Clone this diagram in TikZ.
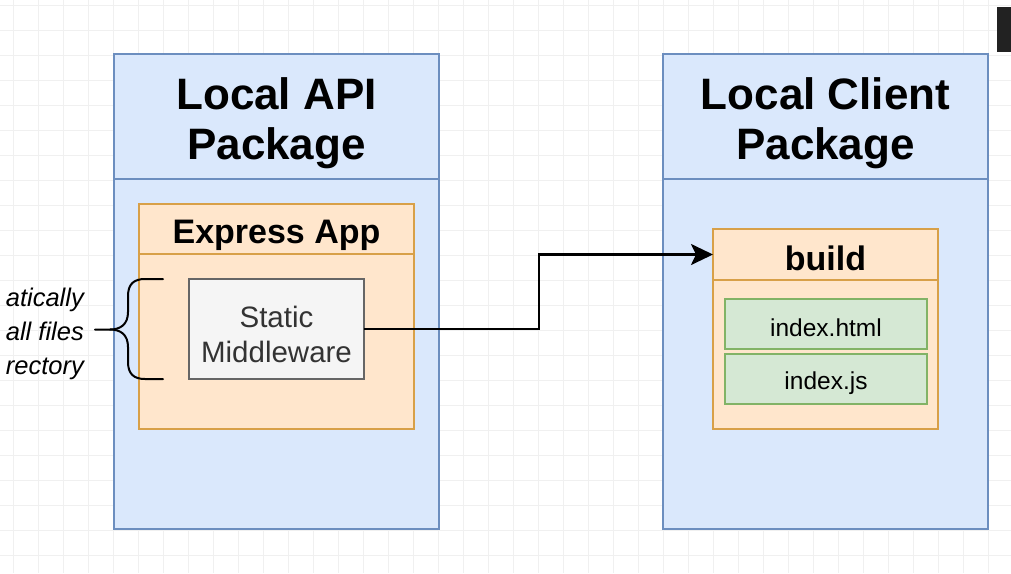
\documentclass[tikz,border=0pt]{standalone}
\usepackage{fontspec}
\setmainfont{Liberation Sans}
\usetikzlibrary{arrows.meta}
\definecolor{bluefill}{HTML}{DAE8FC}
\definecolor{bluedraw}{HTML}{6C8EBF}
\definecolor{orfill}{HTML}{FFE6CC}
\definecolor{ordraw}{HTML}{D8A048}
\definecolor{grfill}{HTML}{F5F5F5}
\definecolor{grdraw}{HTML}{666666}
\definecolor{grtext}{HTML}{333333}
\definecolor{gnfill}{HTML}{D5E8D4}
\definecolor{gndraw}{HTML}{82B366}
\definecolor{gridc}{HTML}{F0F0F0}
\definecolor{darkblock}{HTML}{222222}
\tikzset{
  box/.style={line width=2pt, inner sep=0pt, outer sep=0pt},
  pkgbox/.style={box, draw=bluedraw, fill=bluefill},
  appbox/.style={box, draw=ordraw, fill=orfill},
  mwbox/.style={box, draw=grdraw, fill=grfill},
  filebox/.style={box, draw=gndraw, fill=gnfill},
  label/.style={inner sep=0pt, align=center},
  titletext/.style={label, font=\fontsize{44}{50}\selectfont\bfseries},
  subtitletext/.style={label, font=\fontsize{34}{40}\selectfont\bfseries},
  mwtext/.style={label, text=grtext, font=\fontsize{29.5}{35}\selectfont},
  filetext/.style={label, font=\fontsize{24.5}{28}\selectfont},
  notetext/.style={font=\fontsize{25.5}{34}\selectfont\itshape, inner sep=0pt, anchor=base east},
  gridline/.style={draw=gridc, line width=0.8pt},
  flow/.style={draw=black, line width=2.5pt, -{Stealth[length=22pt, width=21pt, inset=5pt]}},
  bracestyle/.style={draw=black, line width=2pt, line cap=round}
}
\begin{document}
\begin{tikzpicture}[x=1pt, y=-1pt]
\useasboundingbox (0,0) rectangle (1011,573);
\fill[white] (0,0) rectangle (1011,573);
% grid
\foreach \x in {13,38,...,1011} \draw[gridline] (\x,0) -- (\x,573);
\foreach \y in {5,30,...,573} \draw[gridline] (0,\y) -- (1011,\y);

% Local API Package
\node[pkgbox, minimum width=325pt, minimum height=475pt] (api) at (276.5,291.5) {};
\node[pkgbox, minimum width=325pt, minimum height=125pt] (apihdr) at (276.5,116.5) {};
\node[titletext] (apititle) at ([yshift=-7pt]apihdr.center) {Local API\\Package};
% Express App
\node[appbox, minimum width=275pt, minimum height=225pt] (app) at (276.5,316.5) {};
\node[appbox, minimum width=275pt, minimum height=50pt] (apphdr) at (276.5,229) {};
\node[subtitletext] (apptitle) at ([yshift=-6pt]apphdr.center) {Express App};
% Static Middleware
\node[mwbox, minimum width=175pt, minimum height=100pt] (mw) at (276.5,329) {};
\node[mwtext] (mwtitle) at ([yshift=-5pt]mw.center) {Static\\Middleware};

% Local Client Package
\node[pkgbox, minimum width=325pt, minimum height=475pt] (client) at (825.5,291.5) {};
\node[pkgbox, minimum width=325pt, minimum height=125pt] (clienthdr) at (825.5,116.5) {};
\node[titletext] (clienttitle) at ([yshift=-7pt]clienthdr.center) {Local Client\\Package};
% build
\node[appbox, minimum width=225pt, minimum height=200pt] (build) at (825.5,329) {};
\node[appbox, minimum width=225pt, minimum height=51pt] (buildhdr) at (825.5,254.5) {};
\node[subtitletext] (buildtitle) at ([yshift=-4pt]buildhdr.center) {build};
\node[filebox, minimum width=202pt, minimum height=50pt] (html) at (826,324) {};
\node[filetext] (htmltext) at ([yshift=-4pt]html.center) {index.html};
\node[filebox, minimum width=202pt, minimum height=50pt] (js) at (826,379) {};
\node[filetext] (jstext) at ([yshift=-4pt]js.center) {index.js};

% connector
\draw[flow] (mw.east) -- ++(175pt,0pt) |- (buildhdr.west);

% brace and note
\coordinate (bracetop) at (163,279);
\coordinate (bracebot) at (163,379);
\coordinate (bracetip) at (95,329.5);
\draw[bracestyle] (bracetop) -- (145,279) .. controls (134,279) and (128,284) .. (128,296)
  -- (128,312) .. controls (128,324) and (121,329.5) .. (110,329.5) -- (bracetip);
\draw[bracestyle] (bracebot) -- (145,379) .. controls (134,379) and (128,374) .. (128,362)
  -- (128,347) .. controls (128,335) and (121,329.5) .. (110,329.5);
\node[notetext] (n1) at (84,306) {atically};
\node[notetext] (n2) at (84,340) {all files};
\node[notetext] (n3) at (84,374) {rectory};

% dark block at top right
\fill[darkblock] (997,7) rectangle (1011,52);
\end{tikzpicture}
\end{document}
